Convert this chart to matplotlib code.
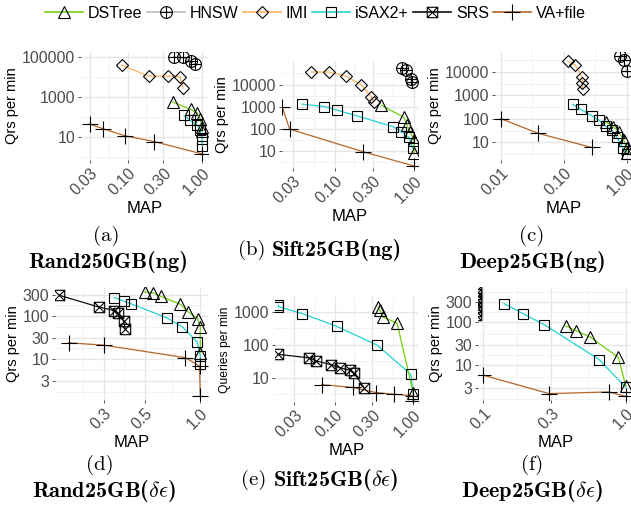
import numpy as np
import matplotlib
matplotlib.use("Agg")
import matplotlib.pyplot as plt
from matplotlib.path import Path
from matplotlib.lines import Line2D
from matplotlib.ticker import NullFormatter

plt.rcParams['font.family'] = ['Liberation Sans', 'DejaVu Sans']
plt.rcParams['mathtext.fontset'] = 'cm'

# Series names and colours
names = ["DSTree", "HNSW", "IMI", "iSAX2+", "SRS", "VA+file"]
colors = ["#72CF12", "#BEBEBE", "#FDB55E", "#20D2D2", "#111111", "#B5662A"]

# (a) Rand250GB(ng)
a_hnsw_x = [0.41, 0.55, 0.70, 0.80]
a_hnsw_y = [100000, 93000, 60000, 43000]
a_imi_x = [0.082, 0.19, 0.35, 0.50, 0.55]
a_imi_y = [38000, 10800, 10800, 10000, 2800]
a_dstree_x = [0.40, 0.70, 0.85, 0.94, 0.99, 1.0]
a_dstree_y = [560, 240, 165, 83, 32, 20]
a_isax_x = [0.57, 0.69, 0.85, 0.94, 1.0, 1.0]
a_isax_y = [120, 68, 42, 22, 8.3, 3.8]
a_va_x = [0.03, 0.046, 0.091, 0.226, 1.0]
a_va_y = [45, 26, 11.6, 6, 1.46]

# (b) Sift25GB(ng)
b_hnsw_x = [0.70, 0.79, 0.92, 0.93]
b_hnsw_y = [59000, 44000, 17000, 13000]
b_imi_x = [0.051, 0.085, 0.138, 0.214, 0.29, 0.31]
b_imi_y = [37000, 37000, 23700, 10000, 2750, 1600]
b_dstree_x = [0.385, 0.75, 0.81, 0.89, 1.0, 1.0]
b_dstree_y = [1150, 320, 145, 72, 30, 7.6]
b_isax_x = [0.039, 0.074, 0.106, 0.19, 0.55, 0.69, 0.865, 0.96]
b_isax_y = [1290, 1000, 690, 380, 120, 72, 40, 12.6]
b_va_x = [0.022, 0.027, 0.226, 1.0]
b_va_y = [910, 95, 9, 2]

# (c) Deep25GB(ng)
c_hnsw_x = [0.78, 0.9, 1.0]
c_hnsw_y = [46500, 31600, 10700]
c_imi_x = [0.115, 0.15, 0.196, 0.196, 0.2]
c_imi_y = [28500, 20600, 6100, 3400, 1960]
c_isax_x = [0.138, 0.187, 0.277, 0.36, 0.46, 0.58, 0.69, 0.88, 1.0]
c_isax_y = [410, 250, 135, 88, 49, 33, 17, 5.5, 3.2]
c_dstree_x = [0.46, 0.61, 0.75, 0.9, 1.0, 1.0]
c_dstree_y = [75, 46, 28, 12, 5.5, 3.4]
c_va_x = [0.01, 0.039, 0.277]
c_va_y = [100, 24, 6]

# (d) Rand25GB(de)
d_srs_x = [0.173, 0.282, 0.343, 0.36, 0.385, 0.393]
d_srs_y = [300, 160, 132, 115, 75, 49]
d_isax_x = [0.343, 0.385, 0.42, 0.66, 0.80, 0.96, 1.0, 1.0]
d_isax_y = [265, 221, 192, 89, 55, 24.6, 11.4, 7.3]
d_dstree_x = [0.5, 0.555, 0.61, 0.78, 0.86, 0.967, 1.0, 1.0]
d_dstree_y = [358, 340, 285, 185, 123, 86, 55, 13.6]
d_va_x = [0.194, 0.3, 0.83, 0.99, 1.0]
d_va_y = [23.3, 20.6, 10.5, 6.7, 1.34]

# (e) Sift25GB(de)
e_isax_x = [0.0186, 0.0186, 0.038, 0.104, 0.346, 0.93, 1.0]
e_isax_y = [1600, 1450, 890, 366, 97, 12.6, 3.2]
e_dstree_x = [0.356, 0.37, 0.41, 0.62, 1.0]
e_dstree_y = [1420, 1180, 700, 460, 3.4]
e_srs_x = [0.0186, 0.046, 0.057, 0.087, 0.115, 0.155, 0.174, 0.233]
e_srs_y = [51, 40, 32, 25, 20, 16.6, 13.8, 4.96]
e_va_x = [0.067, 0.167, 0.33, 0.566, 1.0, 1.0]
e_va_y = [6.1, 5, 3.5, 3.1, 2.8, 1.9]

# (f) Deep25GB(de)
f_srs_x = [0.089, 0.089, 0.089, 0.089, 0.089, 0.089, 0.089]
f_srs_y = [550, 450, 380, 300, 230, 180, 150]
f_isax_x = [0.14, 0.19, 0.268, 0.65, 1.0]
f_isax_y = [275, 161, 89, 13.7, 3.1]
f_dstree_x = [0.38, 0.45, 0.56, 0.89, 1.0]
f_dstree_y = [83, 64, 46, 15.3, 3.3]
f_va_x = [0.1, 0.29, 0.76, 1.0]
f_va_y = [5.9, 2.2, 2.4, 1.9]

# маркеры как в ggplot
circ_plus = Path.make_compound_path(Path.unit_circle(),
                                    Path([[-1, 0], [1, 0]]), Path([[0, -1], [0, 1]]))
sq_cross = Path.make_compound_path(Path([[-1, -1], [1, -1], [1, 1], [-1, 1], [-1, -1]]),
                                   Path([[-1, -1], [1, 1]]), Path([[-1, 1], [1, -1]]))
markers = ["^", circ_plus, "D", "s", sq_cross, "+"]
msizes = [9, 8.5, 6.5, 7, 7.5, 11]

W, H = 631, 507
fig = plt.figure(figsize=(W / 100, H / 100), dpi=100)


def add_ax(l, r, t, b):
    return fig.add_axes([l / W, 1 - b / H, (r - l) / W, (b - t) / H])


def minor_of(ticks):
    lt = np.log10(ticks)
    mids = list((lt[:-1] + lt[1:]) / 2)
    mids = [lt[0] - (lt[1] - lt[0]) / 2] + mids + [lt[-1] + (lt[-1] - lt[-2]) / 2]
    return [10 ** m for m in mids]


def series(ax, k, x, y):
    ax.plot(x, y, color=colors[k], lw=0.9, zorder=2)
    ax.plot(x, y, ls="none", marker=markers[k], ms=msizes[k], mfc="none",
            mec="black", mew=0.8, zorder=3)


def style(ax, xlim, ylim, xt, xl, yt, yl, ylabel="Qrs per min", ylfs=10.5):
    ax.set_xscale("log")
    ax.set_yscale("log")
    ax.set_xticks(xt)
    ax.set_xticklabels(xl, rotation=45, ha="right", rotation_mode="anchor")
    ax.set_xticks(minor_of(xt), minor=True)
    ax.set_yticks(yt)
    ax.set_yticklabels(yl)
    ax.set_yticks(minor_of(yt), minor=True)
    ax.xaxis.set_minor_formatter(NullFormatter())
    ax.yaxis.set_minor_formatter(NullFormatter())
    ax.set_xlim(*xlim)
    ax.set_ylim(*ylim)
    ax.grid(True, which="major", color="#E6E6E6", lw=1.0, zorder=0)
    ax.grid(True, which="minor", color="#F0F0F0", lw=0.6, zorder=0)
    for s in ax.spines.values():
        s.set_visible(False)
    ax.tick_params(which="major", length=2.5, width=0.6, color="#333333",
                   labelsize=11.5, labelcolor="#4D4D4D", pad=1.5)
    ax.tick_params(which="minor", length=0)
    ax.set_xlabel("MAP", fontsize=12, labelpad=2)
    ax.set_ylabel(ylabel, fontsize=ylfs, labelpad=2)
    ax.set_axisbelow(True)


x3 = [0.03, 0.1, 0.3, 1.0]
x3l = ["0.03", "0.10", "0.30", "1.00"]

ax = add_ax(81, 208, 52, 160)
series(ax, 1, a_hnsw_x, a_hnsw_y)
series(ax, 2, a_imi_x, a_imi_y)
series(ax, 0, a_dstree_x, a_dstree_y)
series(ax, 3, a_isax_x, a_isax_y)
series(ax, 5, a_va_x, a_va_y)
style(ax, (0.023, 1.2), (0.73, 172000), x3, x3l,
      [10, 1000, 100000], ["10", "1000", "100000"])

ax = add_ax(282, 418, 62, 168)
series(ax, 1, b_hnsw_x, b_hnsw_y)
series(ax, 2, b_imi_x, b_imi_y)
series(ax, 0, b_dstree_x, b_dstree_y)
series(ax, 3, b_isax_x, b_isax_y)
series(ax, 5, b_va_x, b_va_y)
style(ax, (0.0217, 1.12), (1.63, 105000), x3, x3l,
      [10, 100, 1000, 10000], ["10", "100", "1000", "10000"])

ax = add_ax(495, 633, 52, 160)
series(ax, 1, c_hnsw_x, c_hnsw_y)
series(ax, 2, c_imi_x, c_imi_y)
series(ax, 3, c_isax_x, c_isax_y)
series(ax, 0, c_dstree_x, c_dstree_y)
series(ax, 5, c_va_x, c_va_y)
style(ax, (0.008, 1.26), (1.75, 71000), [0.01, 0.1, 1.0], ["0.01", "0.10", "1.00"],
      [10, 100, 1000, 10000], ["10", "100", "1000", "10000"])

ax = add_ax(55, 208, 287, 400)
series(ax, 4, d_srs_x, d_srs_y)
series(ax, 3, d_isax_x, d_isax_y)
series(ax, 0, d_dstree_x, d_dstree_y)
series(ax, 5, d_va_x, d_va_y)
style(ax, (0.164, 1.1), (1.08, 468), [0.3, 0.5, 1.0], ["0.3", "0.5", "1.0"],
      [3, 10, 30, 100, 300], ["3", "10", "30", "100", "300"])

ax = add_ax(275, 418, 297, 402)
series(ax, 4, e_srs_x, e_srs_y)
series(ax, 3, e_isax_x, e_isax_y)
series(ax, 0, e_dstree_x, e_dstree_y)
series(ax, 5, e_va_x, e_va_y)
style(ax, (0.0169, 1.15), (1.8, 2860), x3, x3l,
      [10, 100, 1000], ["10", "100", "1000"], ylabel="Queries per min", ylfs=8.7)

ax = add_ax(478, 633, 287, 400)
series(ax, 4, f_srs_x, f_srs_y)
series(ax, 3, f_isax_x, f_isax_y)
series(ax, 0, f_dstree_x, f_dstree_y)
series(ax, 5, f_va_x, f_va_y)
style(ax, (0.092, 1.125), (1.56, 670), [0.1, 0.3, 1.0], ["0.1", "0.3", "1.0"],
      [3, 10, 30, 100, 300], ["3", "10", "30", "100", "300"])

# легенда
handles = [Line2D([], [], color=colors[k], lw=1.2, marker=markers[k], ms=msizes[k],
                  mfc="none", mec="black", mew=0.8) for k in range(6)]
fig.legend(handles, names, loc="center", bbox_to_anchor=(0.5, 1 - 13 / H), ncol=6,
           frameon=False, fontsize=11.5, handlelength=2.4, handletextpad=0.3,
           columnspacing=0.25, borderaxespad=0)

# подписи: cmr10 / cmb10 из поставки matplotlib
FS_R = 15
FS_B = 16
renderer = fig.canvas.get_renderer()


def cap(x, y, s, bold=False):
    fig.text(x / W, 1 - y / H, s, ha="center", va="center",
             fontsize=FS_B if bold else FS_R, family="cmb10" if bold else "cmr10")


def cap_line(xc, y, tag, name):
    # "(b) Name" в одну строку, центр по xc
    t1 = fig.text(0, 1 - y / H, tag + " ", ha="left", va="center",
                  fontsize=FS_R, family="cmr10")
    t2 = fig.text(0, 1 - y / H, name, ha="left", va="center",
                  fontsize=FS_B, family="cmb10")
    w1 = t1.get_window_extent(renderer).width
    w2 = t2.get_window_extent(renderer).width
    x0 = xc - (w1 + w2) / 2
    t1.set_x(x0 / W)
    t2.set_x((x0 + w1) / W)


de = r"$\delta\epsilon$"
cap(106, 236, "(a)")
cap(108, 262, "Rand250GB(ng)", bold=True)
cap_line(320, 250, "(b)", "Sift25GB(ng)")
cap(532, 236, "(c)")
cap(532, 262, "Deep25GB(ng)", bold=True)
cap(100, 465, "(d)")
cap(104, 491, "Rand25GB(" + de + ")", bold=True)
cap_line(320, 480, "(e)", "Sift25GB(" + de + ")")
cap(532, 465, "(f)")
cap(532, 491, "Deep25GB(" + de + ")", bold=True)

fig.savefig("out.png", dpi=100)
